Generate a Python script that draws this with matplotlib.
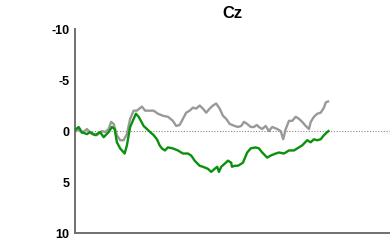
import matplotlib
matplotlib.use("Agg")
import matplotlib.pyplot as plt

# ERP at electrode Cz, negative up (time in ms, amplitude in microvolts)
gray_t = [-100, -85, -72, -52, -32, -12, 8, 21, 35, 45, 55, 68, 81, 95, 108, 121,
          135, 148, 168, 181, 201, 215, 232, 252, 272, 292, 305, 319, 332, 345,
          359, 372, 385, 399, 412, 425, 439, 452, 465, 479, 492, 505, 519, 539,
          552, 565, 576, 589, 603, 616, 627, 636, 649, 663, 676, 689, 709, 723,
          733, 743, 756, 769, 783, 796, 809, 823, 836, 843, 856, 869, 883, 896,
          903, 912]
gray_v = [0.1, -0.2, 0.2, -0.2, 0.3, 0.4, 0.0, 0.1, -0.2, -0.9, -0.7, 0.4, 0.9,
          0.9, 0.3, -1.2, -2.0, -2.0, -2.4, -2.0, -2.0, -2.0, -1.7, -1.5, -1.4,
          -1.0, -0.5, -0.6, -1.2, -1.8, -2.0, -2.3, -2.2, -2.5, -2.2, -1.8, -2.2,
          -2.5, -2.7, -2.2, -1.5, -1.2, -0.7, -0.5, -0.4, -0.5, -0.9, -0.7, -0.4,
          -0.4, -0.6, -0.4, -0.2, -0.5, 0.0, -0.4, -0.2, 0.0, 0.8, -0.2, -1.0,
          -1.0, -1.4, -1.2, -0.9, -0.5, -0.2, -0.9, -1.4, -1.7, -1.8, -2.3, -2.8,
          -2.9]

green_t = [-100, -85, -72, -52, -39, -19, 1, 15, 35, 48, 59, 68, 81, 99, 108, 121,
           135, 144, 155, 175, 188, 201, 215, 228, 239, 248, 260, 272, 292, 312,
           332, 352, 365, 379, 399, 412, 432, 445, 459, 469, 476, 485, 499, 512,
           525, 528, 539, 552, 572, 589, 603, 623, 636, 649, 669, 683, 703, 716,
           736, 756, 776, 796, 809, 829, 843, 856, 869, 883, 896, 909, 914]
green_v = [-0.1, -0.4, 0.1, 0.3, 0.1, 0.4, 0.1, 0.6, 0.1, -0.4, -0.2, 1.1, 1.7,
           2.2, 1.4, -0.4, -1.2, -1.7, -1.4, -0.5, -0.2, 0.1, 0.4, 0.8, 1.4, 1.7,
           1.9, 1.6, 1.7, 1.9, 2.2, 2.2, 2.4, 2.9, 3.4, 3.5, 3.7, 4.0, 3.7, 3.5,
           4.0, 3.5, 3.2, 2.9, 3.1, 3.5, 3.4, 3.4, 3.1, 2.1, 1.7, 1.6, 1.7, 2.1,
           2.6, 2.4, 2.2, 2.1, 2.2, 1.9, 1.9, 1.6, 1.4, 0.9, 1.1, 0.8, 0.9, 0.8,
           0.4, 0.1, 0.0]

yticks = [-10, -5, 0, 5, 10]

plt.rcParams['font.family'] = ['Liberation Sans', 'DejaVu Sans']

fig = plt.figure(figsize=(3.9, 2.48), dpi=100)
ax = fig.add_axes([0.192, 0.06, 0.808, 0.823])

ax.axhline(0, color='#888888', lw=0.8, ls=(0, (1, 1.5)), zorder=1)
ax.plot(gray_t, gray_v, color='#999999', lw=1.7, zorder=2)
ax.plot(green_t, green_v, color='#0a900a', lw=1.7, zorder=3)

ax.set_xlim(-100, 1160)
ax.set_ylim(10, -10)
ax.set_yticks(yticks)
ax.set_yticklabels([str(v) for v in yticks], fontweight='bold', fontsize=9)
ax.set_xticks([])
ax.tick_params(axis='y', length=0, pad=4)

for s in ['top', 'right']:
    ax.spines[s].set_visible(False)
for s in ['left', 'bottom']:
    ax.spines[s].set_color('#707070')
    ax.spines[s].set_linewidth(1.4)

ax.set_title('Cz', fontweight='bold', fontsize=12, pad=8)

fig.savefig('out.png', dpi=100)
